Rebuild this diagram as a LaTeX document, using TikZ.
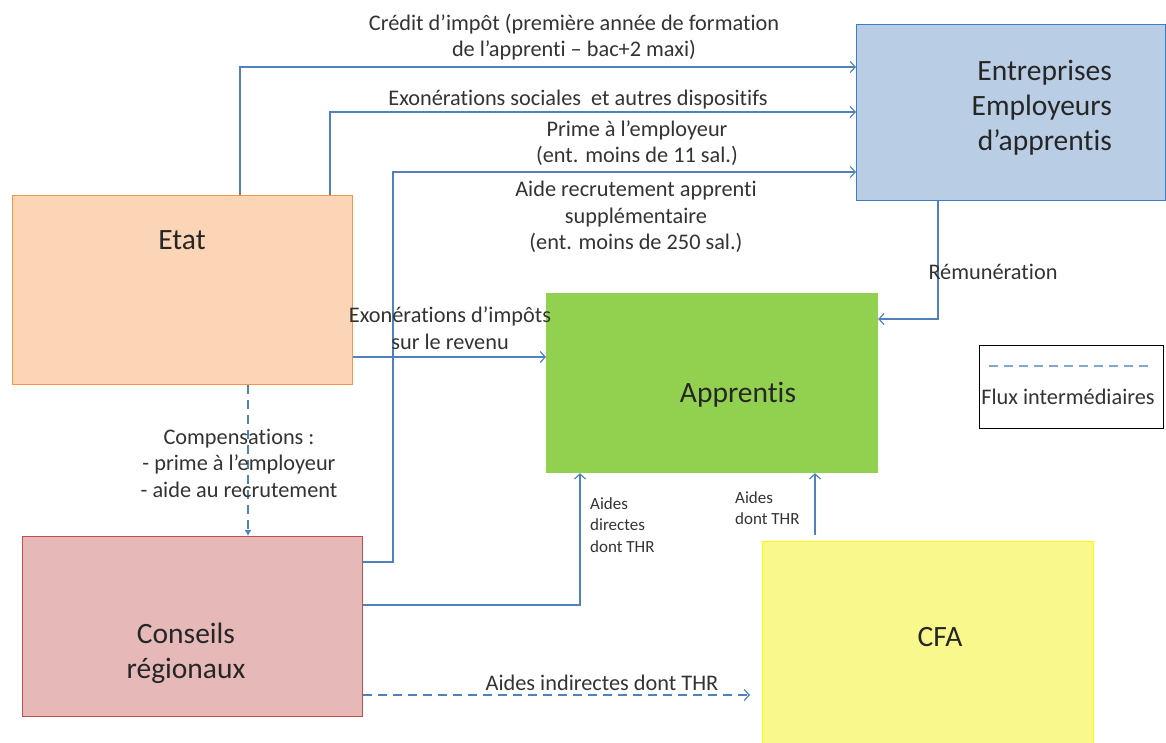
\documentclass[tikz,border=0pt]{standalone}
\usepackage{fontspec}
\setmainfont[Ligatures=NoCommon]{Carlito}
\usetikzlibrary{arrows.meta}
\definecolor{colFlux}{RGB}{79,129,189}
\definecolor{colEtat}{RGB}{247,150,70}
\definecolor{colEtatFill}{RGB}{251,213,181}
\definecolor{colEntr}{RGB}{60,125,200}
\definecolor{colEntrFill}{RGB}{185,205,229}
\definecolor{colAppr}{RGB}{146,208,80}
\definecolor{colCons}{RGB}{192,80,77}
\definecolor{colConsFill}{RGB}{230,185,184}
\definecolor{colCfa}{RGB}{255,255,0}
\definecolor{colCfaFill}{RGB}{248,248,140}
\tikzstyle{box}=[draw, line width=1.2pt, anchor=north west, inner sep=0pt]
\tikzstyle{etatBox}=[box, draw=colEtat, fill=colEtatFill, minimum width=340pt, minimum height=189pt]
\tikzstyle{entrBox}=[box, draw=colEntr, fill=colEntrFill, minimum width=309pt, minimum height=176pt]
\tikzstyle{apprBox}=[box, draw=colAppr, fill=colAppr, minimum width=331pt, minimum height=179pt]
\tikzstyle{consBox}=[box, draw=colCons, fill=colConsFill, minimum width=340pt, minimum height=180pt]
\tikzstyle{cfaBox}=[box, draw=colCfa, fill=colCfaFill, minimum width=331pt, minimum height=210pt]
\tikzstyle{legendBox}=[box, draw=black, fill=white, minimum width=184pt, minimum height=83pt]
\tikzstyle{flux}=[line width=1.2pt, colFlux, -{Straight Barb[length=5pt,width=11pt]}]
\tikzstyle{fluxInt}=[flux, dash pattern=on 9pt off 6pt]
\tikzstyle{lbl}=[font=\fontsize{22.3}{26.5}\selectfont, align=center, inner sep=0pt, text=black!80]
\tikzstyle{smallLbl}=[font=\fontsize{17}{21.5}\selectfont, align=left, anchor=west, inner sep=0pt, text=black!80]
\tikzstyle{boxLbl}=[font=\fontsize{29.5}{35}\selectfont, align=center, inner sep=0pt, text=black!85]

\begin{document}
\begin{tikzpicture}[x=1pt, y=-1pt]
	\useasboundingbox (0,0) rectangle (1166,743);

	% Boxes
	\node[etatBox] (etat) at (12,195) {};
	\node[entrBox] (entr) at (856,24) {};
	\node[apprBox] (appr) at (546,293) {};
	\node[consBox] (cons) at (22,536) {};
	\node[cfaBox] (cfa) at (762,541) {};
	\node[legendBox] (legend) at (979,345) {};

	\node[boxLbl] (etatLbl) at (182,240) {Etat};
	\node[boxLbl, align=right, anchor=east] (entrLbl) at (1112,108) {Entreprises\\Employeurs\\d’apprentis};
	\node[boxLbl] (apprLbl) at (738,395) {Apprentis};
	\node[boxLbl] (consLbl) at (186,653) {Conseils\\régionaux};
	\node[boxLbl] (cfaLbl) at (940,637) {CFA};

	% Bend points
	\coordinate (c1) at (240,67);
	\coordinate (c2) at (330,112);
	\coordinate (c3a) at (393,562);
	\coordinate (c3) at (393,172);
	\coordinate (c4) at (0,357);
	\coordinate (c5) at (938,319);
	\coordinate (c6) at (580,605);
	\coordinate (c7) at (815,0);
	\coordinate (c8) at (0,695);
	\coordinate (c9) at (248,0);

	% Flows to the employers
	\draw[flux] (etat.north -| c1) |- (entr.west |- c1);
	\draw[flux] (etat.north -| c2) |- (entr.west |- c2);
	\draw[flux] (cons.east |- c3a) -| (c3) -- (entr.west |- c3);
	% Flows to the apprentices
	\draw[flux] (etat.east |- c4) -- (appr.west |- c4);
	\draw[flux] (entr.south -| c5) |- (appr.east |- c5);
	\draw[flux] (cons.east |- c6) -| (appr.south -| c6);
	\draw[flux, shorten <=6pt] (cfa.north -| c7) -- (appr.south -| c7);
	% Intermediate flows
	\draw[fluxInt, shorten >=12pt] (cons.east |- c8) -- (cfa.west |- c8);
	\draw[fluxInt, -{Latex[length=6pt,width=7pt]}] (etat.south -| c9) -- (cons.north -| c9);
	\draw[fluxInt, -, colFlux!70] ([xshift=10pt, yshift=-21pt]legend.north west) -- ([xshift=-12pt, yshift=-21pt]legend.north east);

	% Labels
	\node[lbl] (l1) at (574,37) {Crédit d’impôt (première année de formation\\de l’apprenti – bac+2 maxi)};
	\node[lbl] (l2) at (578,100) {Exonérations sociales~ et autres dispositifs};
	\node[lbl] (l3) at (637,143) {Prime à l’employeur\\(ent. moins de 11 sal.)};
	\node[lbl] (l4) at (636,217) {Aide recrutement apprenti\\supplémentaire\\(ent. moins de 250 sal.)};
	\node[lbl] (l5) at (450,328) {Exonérations d’impôts\\sur le revenu};
	\node[lbl] (l6) at (993,272) {Rémunération};
	\node[lbl] (l7) at (239,463) {Compensations :\\- prime à l’employeur\\- aide au recrutement};
	\node[smallLbl] (l8) at (590,525) {Aides\\directes\\dont THR};
	\node[smallLbl] (l9) at (735,508) {Aides\\dont THR};
	\node[lbl] (l10) at (602,683) {Aides indirectes dont THR};
	\node[lbl] (legendLbl) at (1068,397) {Flux intermédiaires};
\end{tikzpicture}
\end{document}
